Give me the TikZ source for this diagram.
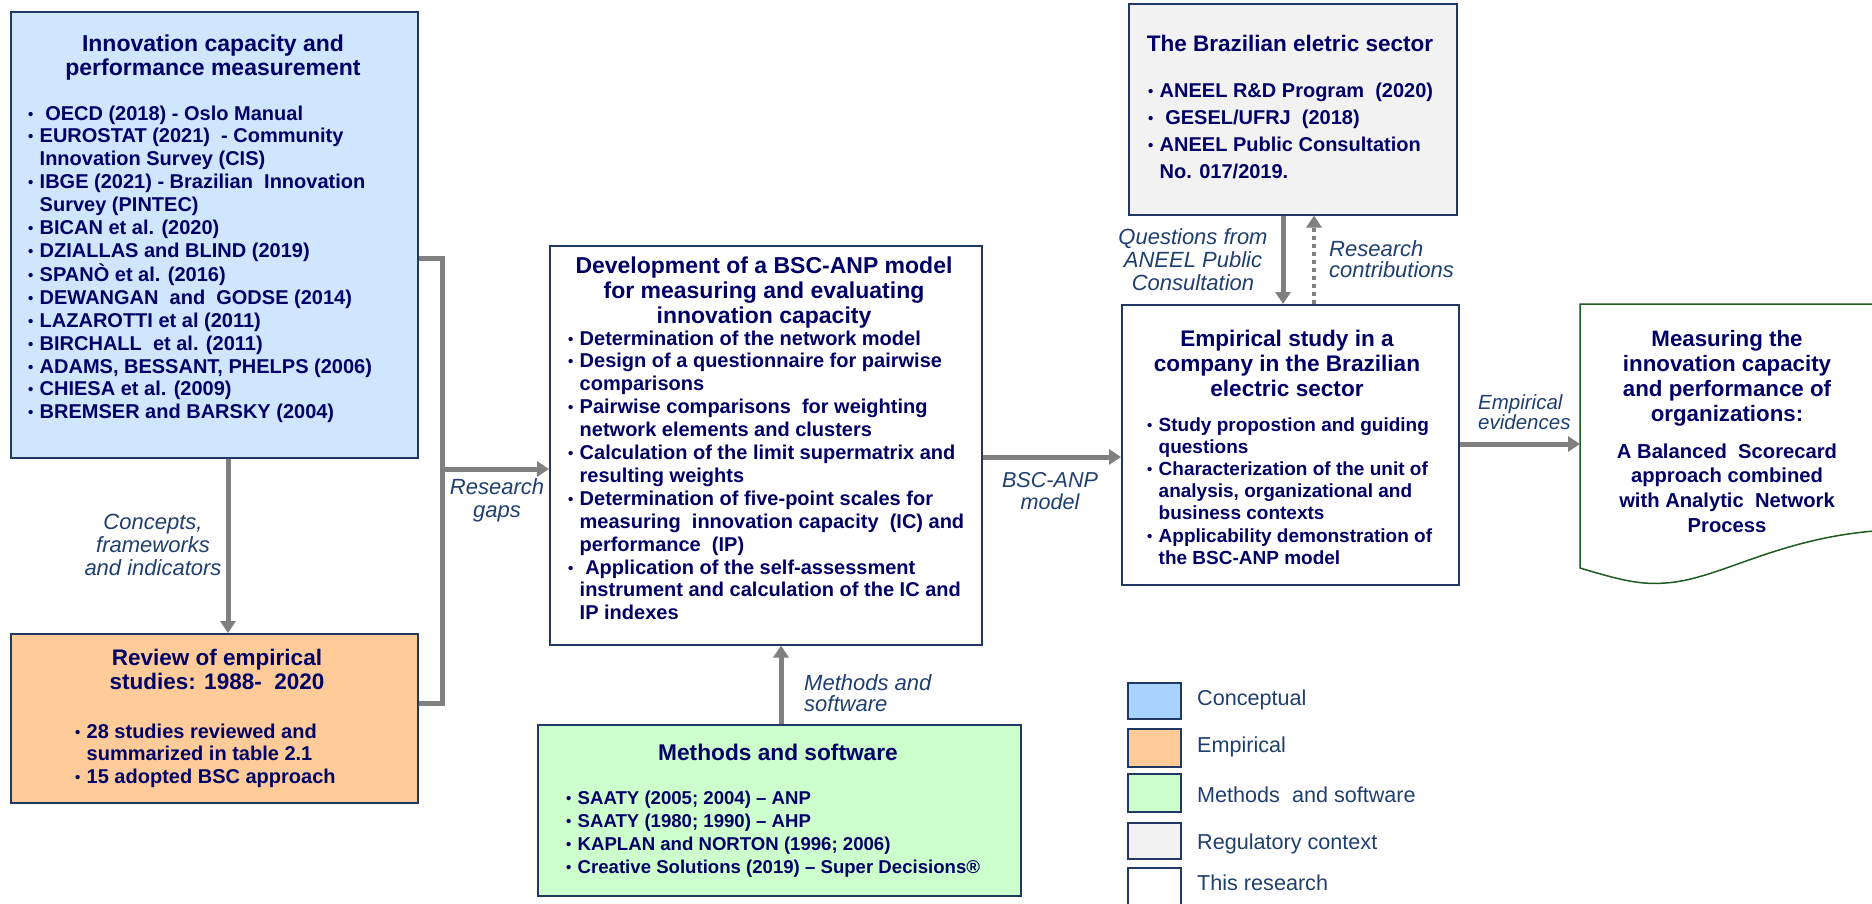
\documentclass[tikz,border=0pt]{standalone}
\usepackage{fontspec}
\setmainfont{Liberation Sans}
\usetikzlibrary{arrows.meta}
\definecolor{txtnavy}{HTML}{000066}
\definecolor{lblblue}{HTML}{1F3F6E}
\definecolor{bordernavy}{HTML}{1F3864}
\definecolor{arrowgrey}{HTML}{808080}
\definecolor{fillblue}{HTML}{D0E6FF}
\definecolor{legblue}{HTML}{A9D3FF}
\definecolor{fillorange}{HTML}{FFCC99}
\definecolor{fillgreen}{HTML}{CCFFCC}
\definecolor{fillgrey}{HTML}{F2F2F2}
\definecolor{docgreen}{HTML}{1E5B1E}
\newlength{\bulw}\setlength{\bulw}{11.5pt}
\newcommand{\bmk}{\makebox[\bulw][l]{\raisebox{1pt}{\fontsize{15}{15}\selectfont\textbullet}}}
\newcommand{\bgap}{\hspace*{\bulw}}
\newcommand{\ctab}[1]{\begin{tabular}[t]{@{}c@{}}#1\end{tabular}}
\newcommand{\ltab}[1]{\begin{tabular}[t]{@{}l@{}}#1\end{tabular}}
\tikzset{
  box/.style={draw=bordernavy, line width=1.5pt, rectangle, inner sep=0pt, anchor=north west},
  ttl/.style={inner sep=0pt, anchor=base, text=txtnavy},
  lst/.style={inner sep=0pt, anchor=base west, text=txtnavy},
  lbl/.style={inner sep=0pt, anchor=base, text=lblblue},
  legtxt/.style={inner sep=0pt, anchor=base west, text=lblblue, font=\fontsize{21.6}{24}\selectfont},
  conn/.style={draw=arrowgrey, line width=5pt},
  arr/.style={conn, -{Triangle[length=12pt,width=15pt]}},
}
\begin{document}
\begin{tikzpicture}[x=1pt,y=-1pt]
\useasboundingbox[fill=white] (0,0) rectangle (1872,903);
\clip (0,0) rectangle (1872,903);

% ---------- boxes ----------
\node[box, fill=fillblue, minimum width=407pt, minimum height=446pt] (concept) at (10,11) {};
\node[box, fill=fillorange, minimum width=407pt, minimum height=169pt] (review) at (10,633) {};
\node[box, fill=white, minimum width=432pt, minimum height=399pt] (dev) at (549,245) {};
\node[box, fill=fillgreen, minimum width=483pt, minimum height=171pt] (methods) at (537,724) {};
\node[box, fill=fillgrey, minimum width=328pt, minimum height=211pt] (brazil) at (1128,3) {};
\node[box, fill=white, minimum width=337pt, minimum height=280pt] (emp) at (1121,304) {};

% document shape
\draw[draw=docgreen, line width=1.5pt, fill=white] (1890,304) -- (1580,304) -- (1580,568)
  .. controls (1620,580) and (1640,585) .. (1665,583)
  .. controls (1720,580) and (1780,535) .. (1890,530);
\coordinate (docw) at (1580,444);

% ---------- box texts ----------
\node[ttl, font=\bfseries\fontsize{23}{24}\selectfont] (concepttitle) at (213,51)
  {\ctab{Innovation capacity and\\performance measurement}};
\node[lst, font=\bfseries\fontsize{20}{22.85}\selectfont] (conceptlist) at (28,120)
  {\ltab{\bmk\ OECD (2018) - Oslo Manual\\
  \bmk EUROSTAT (2021) \ - Community\\
  \bgap Innovation Survey (CIS)\\
  \bmk IBGE (2021) - Brazilian \ Innovation\\
  \bgap Survey (PINTEC)\\
  \bmk BICAN et al. (2020)\\
  \bmk DZIALLAS and BLIND (2019)\\
  \bmk SPANÒ et al. (2016)\\
  \bmk DEWANGAN \ and \ GODSE (2014)\\
  \bmk LAZAROTTI et al (2011)\\
  \bmk BIRCHALL \ et al. (2011)\\
  \bmk ADAMS, BESSANT, PHELPS (2006)\\
  \bmk CHIESA et al. (2009)\\
  \bmk BREMSER and BARSKY (2004)}};

\node[ttl, font=\bfseries\fontsize{22.5}{24}\selectfont] (reviewtitle) at (217,665)
  {\ctab{Review of empirical\\studies: 1988- \ 2020}};
\node[lst, font=\bfseries\fontsize{20}{22.5}\selectfont] (reviewlist) at (75,738)
  {\ltab{\bmk 28 studies reviewed and\\
  \bgap summarized in table 2.1\\
  \bmk 15 adopted BSC approach}};

\node[ttl, font=\bfseries\fontsize{23}{25}\selectfont] (devtitle) at (764,273)
  {\ctab{Development of a BSC-ANP model\\for measuring and evaluating\\innovation capacity}};
\node[lst, font=\bfseries\fontsize{20}{22.9}\selectfont] (devlist) at (568,345)
  {\ltab{\bmk Determination of the network model\\
  \bmk Design of a questionnaire for pairwise\\
  \bgap comparisons\\
  \bmk Pairwise comparisons \ for weighting\\
  \bgap network elements and clusters\\
  \bmk Calculation of the limit supermatrix and\\
  \bgap resulting weights\\
  \bmk Determination of five-point scales for\\
  \bgap measuring \ innovation capacity \ (IC) and\\
  \bgap performance \ (IP)\\
  \bmk\ Application of the self-assessment\\
  \bgap instrument and calculation of the IC and\\
  \bgap IP indexes}};

\node[ttl, font=\bfseries\fontsize{22.7}{24}\selectfont] (methodstitle) at (778,760)
  {\ctab{Methods and software}};
\node[lst, font=\bfseries\fontsize{18.6}{23}\selectfont] (methodslist) at (566,804)
  {\ltab{\bmk SAATY (2005; 2004) – ANP\\
  \bmk SAATY (1980; 1990) – AHP\\
  \bmk KAPLAN and NORTON (1996; 2006)\\
  \bmk Creative Solutions (2019) – Super Decisions®}};

\node[ttl, font=\bfseries\fontsize{22.5}{24}\selectfont] (braziltitle) at (1290,51)
  {\ctab{The Brazilian eletric sector}};
\node[lst, font=\bfseries\fontsize{20}{27.3}\selectfont] (brazillist) at (1148,97)
  {\ltab{\bmk ANEEL R\&D Program \ (2020)\\
  \bmk\ GESEL/UFRJ \ (2018)\\
  \bmk ANEEL Public Consultation\\
  \bgap No. 017/2019.}};

\node[ttl, font=\bfseries\fontsize{22.6}{25}\selectfont] (emptitle) at (1287,346)
  {\ctab{Empirical study in a\\company in the Brazilian\\electric sector}};
\node[lst, font=\bfseries\fontsize{19}{22.2}\selectfont] (emplist) at (1147,431)
  {\ltab{\bmk Study propostion and guiding\\
  \bgap questions\\
  \bmk Characterization of the unit of\\
  \bgap analysis, organizational and\\
  \bgap business contexts\\
  \bmk Applicability demonstration of\\
  \bgap the BSC-ANP model}};

\node[ttl, font=\bfseries\fontsize{22.3}{25.3}\selectfont] (doctitle) at (1727,346)
  {\ctab{Measuring the\\innovation capacity\\and performance of\\organizations:}};
\node[ttl, font=\bfseries\fontsize{20.2}{24.7}\selectfont] (docsub) at (1727,458)
  {\ctab{A Balanced \ Scorecard\\approach combined\\with Analytic \ Network\\Process}};

% ---------- connectors ----------
\coordinate (a1) at (228,0);
\draw[arr] (concept.south -| a1) -- (review.north -| a1);

\coordinate (jt) at (442,258);
\coordinate (jb) at (442,703);
\coordinate (jm) at (442,469);
\draw[conn] (concept.east |- jt) -- (jt) -- (jb) -- (review.east |- jb);
\draw[arr] (jm) -- (dev.west |- jm);

\coordinate (a3) at (0,457);
\draw[arr] (dev.east |- a3) -- (emp.west |- a3);

\coordinate (a4) at (781,0);
\draw[arr] (methods.north -| a4) -- (dev.south -| a4);

\coordinate (a5) at (1283,0);
\draw[arr] (brazil.south -| a5) -- (emp.north -| a5);
\coordinate (a6) at (1314,0);
\draw[arr, line width=4.5pt, dash pattern=on 4pt off 4pt] (emp.north -| a6) -- (brazil.south -| a6);

\draw[arr] (emp.east |- docw) -- (docw);

% ---------- connector labels ----------
\node[lbl, font=\itshape\fontsize{22}{23}\selectfont] (lblconcepts) at (153,529)
  {\ctab{Concepts,\\frameworks\\and indicators}};
\node[lbl, font=\itshape\fontsize{22}{23}\selectfont] (lblgaps) at (497,494)
  {\ctab{Research\\gaps}};
\node[lbl, font=\itshape\fontsize{21.6}{22}\selectfont] (lblbsc) at (1050,487)
  {\ctab{BSC-ANP\\model}};
\node[lbl, anchor=base west, font=\itshape\fontsize{22}{18}\selectfont] (lblmethods) at (804,690)
  {\ltab{Methods and\\software}};
\node[lbl, font=\itshape\fontsize{22}{23}\selectfont] (lblquestions) at (1193,244)
  {\ctab{Questions from\\ANEEL Public\\Consultation}};
\node[lbl, anchor=base west, font=\itshape\fontsize{22}{20}\selectfont] (lblcontrib) at (1329,256)
  {\ltab{Research\\contributions}};
\node[lbl, anchor=base west, font=\itshape\fontsize{20.5}{18}\selectfont] (lblevid) at (1478,409)
  {\ltab{Empirical\\evidences}};

% ---------- legend ----------
\node[box, fill=legblue, minimum width=53pt, minimum height=36pt] (leg1) at (1127,682) {};
\node[box, fill=fillorange, minimum width=53pt, minimum height=38pt] (leg2) at (1127,728) {};
\node[box, fill=fillgreen, minimum width=53pt, minimum height=38pt] (leg3) at (1127,773) {};
\node[box, fill=fillgrey, minimum width=53pt, minimum height=36pt] (leg4) at (1127,822) {};
\node[box, fill=white, minimum width=53pt, minimum height=40pt] (leg5) at (1127,867) {};
\node[legtxt] (legt1) at (1197,705.5) {Conceptual};
\node[legtxt] (legt2) at (1197,752.5) {Empirical};
\node[legtxt] (legt3) at (1197,802.5) {Methods \ and software};
\node[legtxt] (legt4) at (1197,849.5) {Regulatory context};
\node[legtxt] (legt5) at (1197,890.5) {This research};
\end{tikzpicture}
\end{document}
